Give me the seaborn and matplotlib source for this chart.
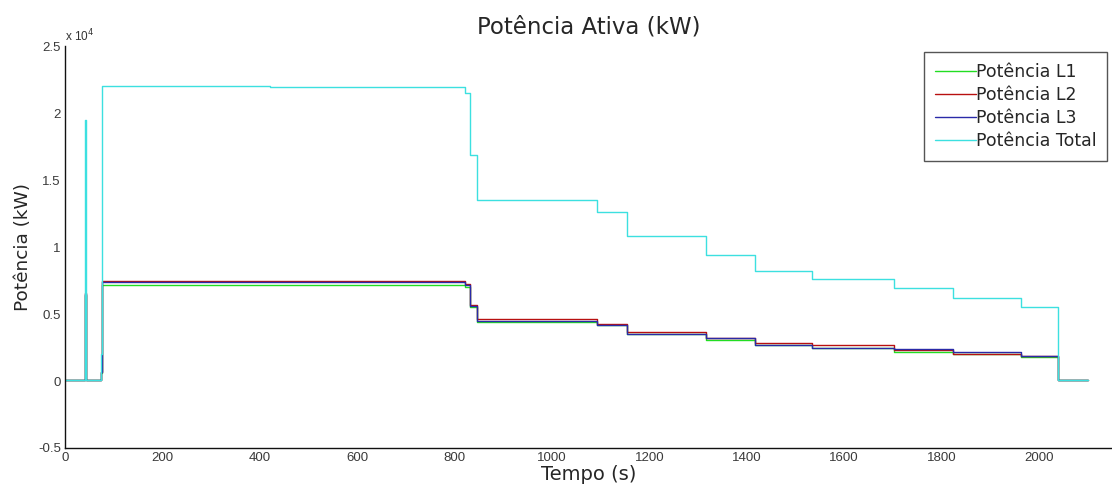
import matplotlib
matplotlib.use("Agg")
import matplotlib.pyplot as plt
import seaborn as sns
import pandas as pd
from matplotlib.ticker import FuncFormatter, MultipleLocator
from matplotlib.lines import Line2D

# ---- data (breakpoints, values held until next time) ----
tempo = [0, 41, 42, 43, 73, 75, 420, 821, 832, 846, 1093, 1154, 1316,
         1417, 1534, 1703, 1823, 1963, 2040, 2101]
pot_l1 = [60, 6400, 4500, 60, 600, 7150, 7150, 7050, 5550, 4400, 4150, 3550,
          3050, 2690, 2440, 2190, 2040, 1770, 60, 60]
pot_l2 = [60, 6600, 4700, 60, 700, 7450, 7450, 7250, 5700, 4650, 4250, 3700,
          3200, 2860, 2660, 2330, 2050, 1890, 60, 60]
pot_l3 = [60, 6500, 4700, 60, 700, 7400, 7400, 7200, 5600, 4500, 4200, 3550,
          3200, 2690, 2490, 2390, 2140, 1890, 60, 60]
pot_total = [100, 19500, 13900, 100, 2000, 22050, 21950, 21500, 16850, 13500,
             12600, 10800, 9450, 8230, 7590, 6915, 6215, 5545, 100, 100]

series_names = ["Potência L1", "Potência L2", "Potência L3", "Potência Total"]
series_vals = [pot_l1, pot_l2, pot_l3, pot_total]
colors = ["#22dd22", "#b81010", "#2a2aa8", "#3ce0e0"]

rows = []
for name, vals in zip(series_names, series_vals):
    for t, v in zip(tempo, vals):
        rows.append({"Tempo": t, "Potencia": v, "Serie": name})
df = pd.DataFrame(rows)

sns.set_style("white")
plt.rcParams["font.family"] = ["DejaVu Sans"]

fig = plt.figure(figsize=(11.12, 4.91), dpi=100)
ax = fig.add_axes([0.0585, 0.0876, 0.9415, 0.818])

sns.lineplot(data=df, x="Tempo", y="Potencia", hue="Serie",
             palette=dict(zip(series_names, colors)), hue_order=series_names,
             estimator=None, sort=False, drawstyle="steps-post",
             linewidth=1.0, legend=False, ax=ax)

ax.set_xlim(0, 2150)
ax.set_ylim(-5000, 25000)
ax.xaxis.set_major_locator(MultipleLocator(200))
ax.yaxis.set_major_locator(MultipleLocator(5000))
ax.yaxis.set_major_formatter(FuncFormatter(lambda v, p: f"{v/1e4:g}"))

for s in ["top", "right"]:
    ax.spines[s].set_visible(False)
for s in ["left", "bottom"]:
    ax.spines[s].set_color("#111111")
    ax.spines[s].set_linewidth(1.0)

ax.tick_params(axis="both", direction="in", length=8, width=1.0,
               color="#333333", labelcolor="#3a3a3a", labelsize=9.5, pad=3)
for lab in ax.get_xticklabels() + ax.get_yticklabels():
    lab.set_fontfamily("Liberation Sans")

ax.set_xlabel("Tempo (s)", fontsize=14, labelpad=0.5)
ax.set_ylabel("Potência (kW)", fontsize=13.3, labelpad=4)
ax.set_title("Potência Ativa (kW)", fontsize=16.5, pad=9)

ax.text(0.0, 1.005, "x 10$^4$", transform=ax.transAxes, fontsize=8.5,
        color="#333333", family="Liberation Sans", ha="left", va="bottom")

handles = [Line2D([0], [0], color=c, lw=1.0) for c in colors]
leg = ax.legend(handles, series_names, loc="upper right",
                bbox_to_anchor=(0.9957, 0.985), fontsize=12.5,
                handlelength=2.4, handletextpad=0.0, labelspacing=0.3,
                borderpad=0.6, borderaxespad=0.0, fancybox=False,
                framealpha=1.0)
leg.get_frame().set_edgecolor("#555555")
leg.get_frame().set_linewidth(1.0)

fig.savefig("out.png", dpi=100)
